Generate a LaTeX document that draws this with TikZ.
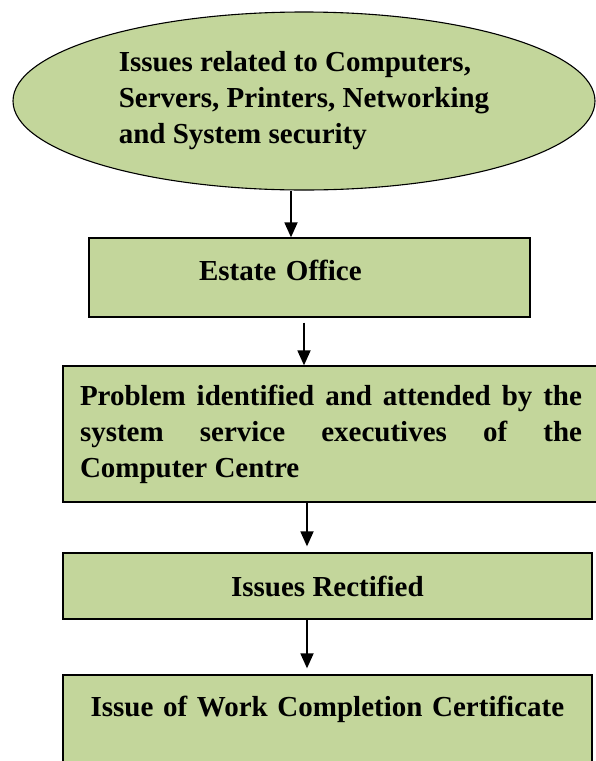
\documentclass[tikz,border=0pt]{standalone}
\usepackage{fontspec}
\setmainfont{Liberation Serif}
\usetikzlibrary{shapes.geometric,arrows.meta}
\definecolor{boxgreen}{HTML}{C3D69B}
\tikzset{
    flowbox/.style={rectangle,draw=black,line width=1.3pt,fill=boxgreen,inner sep=0pt,
        font=\bfseries\fontsize{29}{36}\selectfont},
    flowarrow/.style={-{Triangle[width=13pt,length=15pt]},line width=1.8pt}
}
\begin{document}
\begin{tikzpicture}[x=1pt,y=-1pt]
            \useasboundingbox (0,0) rectangle (595,761);

            \node [flowbox,ellipse,line width=1.1pt,minimum width=582pt,minimum height=178pt,align=left] (issues) at (304,101)
                {Issues related to Computers,\\Servers, Printers, Networking\\and System security};
            \node [flowbox,text width=441pt,align=left,text height=42pt,text depth=37pt] (estate) at (309.5,277.5)
                {\hspace*{110pt}Estate Office};
            \node [flowbox,text width=502pt,inner xsep=17pt,align=justify,minimum height=136pt] (problem) at (331,434)
                {Problem identified and attended by the\linebreak system service executives of the\linebreak Computer Centre};
            \node [flowbox,minimum width=529pt,minimum height=66pt] (rectified) at (327.4,586)
                {Issues Rectified};
            \node [flowbox,text width=529pt,align=center,text height=41pt,text depth=69pt] (certificate) at (327.4,730)
                {Issue of Work Completion Certificate};

            \draw [flowarrow] ([xshift=-13pt]issues.south) -- ([xshift=-18.5pt]estate.north);
            \draw [flowarrow] ([xshift=-5.5pt,yshift=-5pt]estate.south) -- ([xshift=-27pt]problem.north);
            \draw [flowarrow] ([xshift=-24pt]problem.south) -- ([xshift=-20.4pt,yshift=6pt]rectified.north);
            \draw [flowarrow] ([xshift=-20.4pt]rectified.south) -- ([xshift=-20.4pt,yshift=6pt]certificate.north);
        \end{tikzpicture}
\end{document}
